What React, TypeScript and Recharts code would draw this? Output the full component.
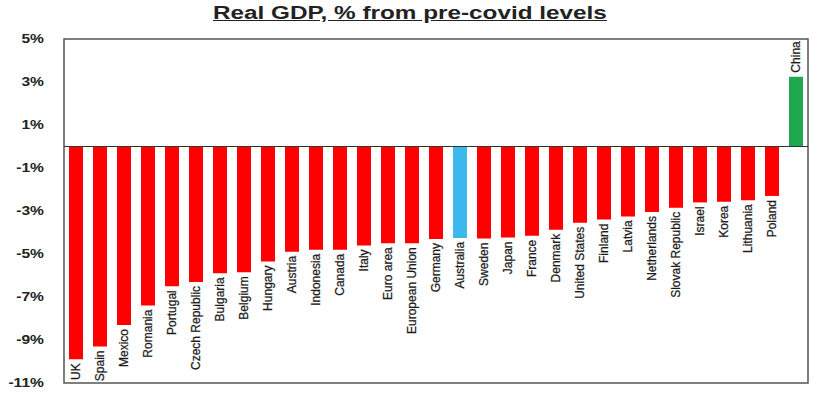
import { BarChart, Bar, XAxis, YAxis, Cell, LabelList, ReferenceLine, ReferenceArea } from "recharts";

const countries = [
  "UK", "Spain", "Mexico", "Romania", "Portugal", "Czech Republic", "Bulgaria", "Belgium",
  "Hungary", "Austria", "Indonesia", "Canada", "Italy", "Euro area", "European Union", "Germany",
  "Australia", "Sweden", "Japan", "France", "Denmark", "United States", "Finland", "Latvia",
  "Netherlands", "Slovak Republic", "Israel", "Korea", "Lithuania", "Poland", "China",
];

const gdpChange = [
  -9.9, -9.3, -8.3, -7.4, -6.5, -6.3, -5.9, -5.85,
  -5.35, -4.9, -4.8, -4.8, -4.6, -4.5, -4.5, -4.3,
  -4.25, -4.28, -4.23, -4.15, -3.87, -3.55, -3.4, -3.25,
  -3.05, -2.85, -2.6, -2.57, -2.5, -2.3, 3.25,
];

const yTicks = [5, 3, 1, -1, -3, -5, -7, -9, -11];

const highlight: Record<string, string> = {
  Australia: "#3cb8ec",
  China: "#1fa84f",
};

const data = countries.map((name, i) => ({ name, value: gdpChange[i] }));

const YTick = (props: any) => {
  const { x, y, payload } = props;
  const tx = x - 12;
  return (
    <text
      x={tx}
      y={y}
      dy={4}
      textAnchor="end"
      fontSize={12}
      fontWeight="bold"
      fill="#222"
      fontFamily="'Liberation Sans', Arial, sans-serif"
      transform={`translate(${tx} 0) scale(1.3 1) translate(${-tx} 0)`}
    >
      {payload.value}%
    </text>
  );
};

const BarLabel = (props: any) => {
  const { x, y, width, height, value, index } = props;
  const cx = x + width / 2;
  const top = Math.min(y, y + height);
  const bottom = Math.max(y, y + height);
  const neg = value < 0;
  const ly = neg ? bottom + 4 : top - 4;
  return (
    <text
      x={cx}
      y={ly}
      dy={4}
      textAnchor={neg ? "end" : "start"}
      fontSize={12}
      fill="#1a1a1a"
      stroke="#1a1a1a"
      strokeWidth={0.25}
      fontFamily="'Liberation Sans', Arial, sans-serif"
      transform={`rotate(-90 ${cx} ${ly})`}
    >
      {countries[index]}
    </text>
  );
};

export default function App() {
  return (
    <div style={{ position: "absolute", left: 0, top: 0, width: 819, height: 398, background: "#fff" }}>
      <div
        style={{
          position: "absolute",
          top: 3,
          left: 0,
          width: 819,
          textAlign: "center",
          fontFamily: "'Liberation Sans', Arial, sans-serif",
          fontWeight: "bold",
          fontSize: 18,
          color: "#222",
        }}
      >
        <span style={{ display: "inline-block", transform: "scaleX(1.35)", textDecoration: "underline" }}>
          Real GDP, % from pre-covid levels
        </span>
      </div>
      <BarChart
        width={819}
        height={398}
        data={data}
        margin={{ top: 39, right: 11, bottom: 15, left: 0 }}
        barSize={14}
      >
        <XAxis dataKey="name" hide />
        <YAxis
          width={64}
          domain={[-11, 5]}
          ticks={yTicks}
          interval={0}
          axisLine={false}
          tickLine={false}
          tick={<YTick />}
        />
        <ReferenceArea y1={-11} y2={5} fill="none" stroke="#555" strokeWidth={1.5} />
        <Bar dataKey="value" isAnimationActive={false}>
          {data.map((d) => (
            <Cell key={d.name} fill={highlight[d.name] || "#ff0000"} />
          ))}
          <LabelList dataKey="value" content={<BarLabel />} />
        </Bar>
        <ReferenceLine y={0} stroke="#333" strokeWidth={1.2} />
      </BarChart>
    </div>
  );
}
